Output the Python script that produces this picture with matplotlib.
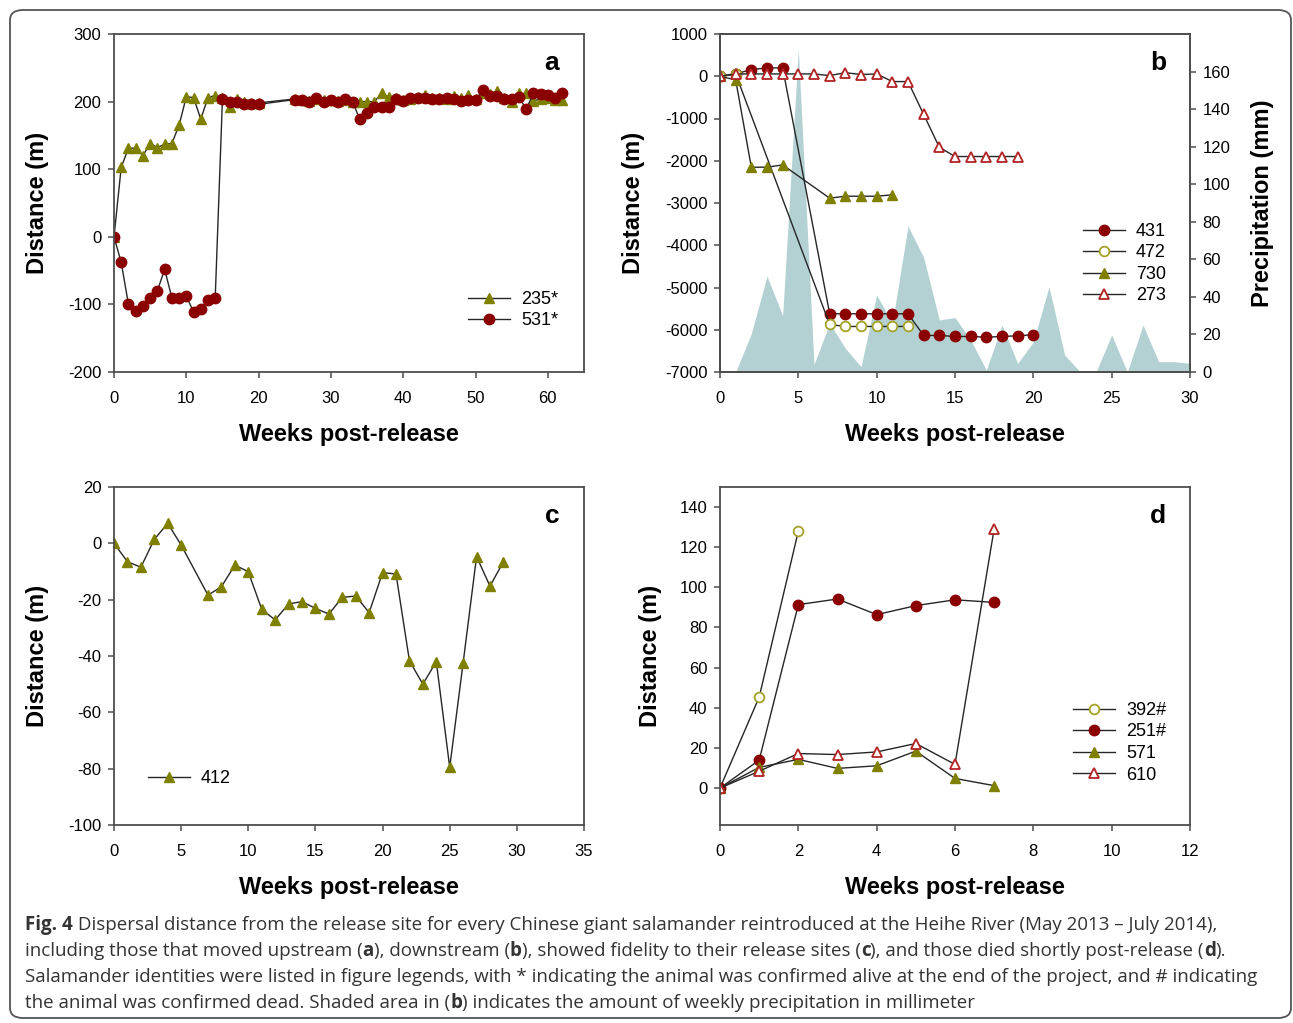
import numpy as np
import matplotlib
matplotlib.use("Agg")
from matplotlib import pyplot as plt
from matplotlib.patches import FancyBboxPatch

plt.rcParams['font.family'] = ['Liberation Sans', 'DejaVu Sans']
plt.rcParams['axes.unicode_minus'] = False

# ---- panel a: upstream movers
weeks_a = list(range(0, 21)) + list(range(25, 63))
dist_235 = [0, 103, 131, 131, 120, 138, 132, 137, 138, 165, 207, 206, 174, 206, 209, 205, 192, 204, 199, 198, 198,
            204, 203, 201, 204, 202, 203, 201, 202, 200, 200, 200, 200, 212, 207, 205, 203, 204, 207, 210, 205,
            206, 204, 209, 205, 210, 204, 212, 211, 216, 206, 199, 212, 212, 201, 204, 205, 202, 203]
dist_531 = [0, -38, -100, -110, -103, -91, -80, -48, -90, -90, -88, -111, -107, -93, -90, 204, 199, 199, 196, 196, 196,
            203, 203, 200, 205, 200, 203, 200, 204, 199, 174, 183, 192, 192, 192, 204, 201, 205, 206, 205, 204,
            204, 205, 204, 201, 202, 203, 217, 209, 209, 204, 204, 207, 189, 212, 211, 210, 206, 212]

# ---- panel b: downstream movers + weekly precipitation
weeks_431 = [0, 1, 2, 3, 4, 7, 8, 9, 10, 11, 12, 13, 14, 15, 16, 17, 18, 19, 20]
dist_431 = [0, 55, 158, 197, 197, -5622, -5622, -5622, -5622, -5622, -5622, -6135, -6135, -6159, -6159, -6175,
            -6159, -6143, -6119]
weeks_472 = [0, 1, 7, 8, 9, 10, 11, 12]
dist_472 = [0, 55, -5875, -5922, -5922, -5922, -5922, -5922]
weeks_730 = [0, 1, 2, 3, 4, 7, 8, 9, 10, 11]
dist_730 = [0, -87, -2153, -2153, -2098, -2886, -2839, -2839, -2839, -2807]
weeks_273 = list(range(0, 20))
dist_273 = [0, 55, 55, 55, 55, 55, 55, 15, 85, 40, 55, -126, -126, -905, -1680, -1900, -1900, -1900, -1900, -1900]
weeks_rain = list(range(0, 31))
rain_mm = [0, 0, 20.5, 51, 30, 172, 4, 26, 12.6, 2.8, 41, 26, 77.7, 61, 27.7, 29, 17, 1, 25, 4.6, 16, 45.4, 9,
           0, 0, 19.7, 0, 25, 5.5, 5.5, 4.6]

# ---- panel c: site fidelity
weeks_412 = [0, 1, 2, 3, 4, 5] + list(range(7, 30))
dist_412 = [0, -6.5, -8.5, 1.4, 7.1, -0.6, -18.4, -15.4, -7.7, -10.1, -23.4, -27.2, -21.5, -20.7, -23.1, -25.1,
            -19.2, -18.7, -24.6, -10.4, -10.9, -41.7, -50, -42, -79.5, -42.4, -4.7, -15.2, -6.5]

# ---- panel d: died shortly post-release
weeks_392 = [0, 1, 2]
dist_392 = [0, 45.3, 128]
weeks_d = [0, 1, 2, 3, 4, 5, 6, 7]
dist_251 = [0, 13.9, 91.4, 94.2, 86.4, 90.9, 93.8, 92.5]
dist_571 = [0, 10.3, 14.3, 9.8, 11.1, 18.4, 4.8, 1.2]
dist_610 = [0, 8.4, 17.2, 16.7, 18.0, 22.2, 11.8, 129.2]

RED = '#8b0000'
OLIVE = '#808000'
OPEN_OLIVE = '#a3a32a'
OPEN_RED = '#b22222'
LINE = '#262626'
SPINE = '#4d4d4d'

filled_circle = dict(marker='o', ms=7.5, mfc=RED, mec=RED, color=LINE, lw=1)
open_circle = dict(marker='o', ms=7, mfc='white', mec=OPEN_OLIVE, mew=1.3, color=LINE, lw=1)
filled_tri = dict(marker='^', ms=7.5, mfc=OLIVE, mec=OLIVE, color=LINE, lw=1)
open_tri = dict(marker='^', ms=7.5, mfc='white', mec=OPEN_RED, mew=1.3, color=LINE, lw=1)

W, H = 1293, 1023
fig = plt.figure(figsize=(W / 100, H / 100), dpi=100)


def make_ax(left, top, right, bottom):
    ax = fig.add_axes([left / W, 1 - bottom / H, (right - left) / W, (bottom - top) / H])
    for s in ax.spines.values():
        s.set_color(SPINE)
        s.set_linewidth(1.3)
    ax.tick_params(direction='out', length=4, width=1.1, color=SPINE, labelsize=12, pad=5)
    ax.tick_params(axis='x', pad=10)
    return ax


def style(ax, letter, ylab_x):
    ax.set_xlabel('Weeks post-release', fontsize=17, fontweight='bold')
    ax.xaxis.set_label_coords(0.5, -0.15)
    ax.set_ylabel('Distance (m)', fontsize=17, fontweight='bold')
    ax.yaxis.set_label_coords(ylab_x, 0.5)
    ax.text(0.932, 0.915, letter, transform=ax.transAxes, fontsize=19, fontweight='bold',
            ha='center', va='center')


def add_legend(ax, x, y):
    ax.legend(loc='upper left', bbox_to_anchor=(x, y), frameon=False, fontsize=13,
              handlelength=2.35, handletextpad=0.6, labelspacing=0.25, borderpad=0, borderaxespad=0)


# a
ax1 = make_ax(114, 34, 584, 372)
ax1.plot(weeks_a, dist_235, label='235*', **filled_tri)
ax1.plot(weeks_a, dist_531, label='531*', **filled_circle)
ax1.set_xlim(0, 65)
ax1.set_ylim(-200, 300)
ax1.set_xticks(range(0, 61, 10))
ax1.set_yticks(range(-200, 301, 100))
style(ax1, 'a', -0.138)
add_legend(ax1, 0.753, 0.24)

# b
ax2 = make_ax(720, 34, 1190, 372)
ax2r = ax2.twinx()
ax2r.fill_between(weeks_rain, rain_mm, 0, color='#b3d1d3', lw=0)
ax2r.set_ylim(0, 180)
ax2r.set_yticks(range(0, 161, 20))
ax2r.tick_params(direction='out', length=4, width=1.1, color=SPINE, labelsize=12, pad=5)
for s in ax2r.spines.values():
    s.set_color(SPINE)
    s.set_linewidth(1.3)
ax2r.set_ylabel('Precipitation (mm)', fontsize=17, fontweight='bold')
ax2r.yaxis.set_label_coords(1.13, 0.5)
ax2.set_zorder(ax2r.get_zorder() + 1)
ax2.patch.set_visible(False)
ax2.plot(weeks_431, dist_431, label='431', **filled_circle)
ax2.plot(weeks_472, dist_472, label='472', **open_circle)
ax2.plot(weeks_730, dist_730, label='730', **filled_tri)
ax2.plot(weeks_273, dist_273, label='273', **open_tri)
ax2.set_xlim(0, 30)
ax2.set_ylim(-7000, 1000)
ax2.set_xticks(range(0, 31, 5))
ax2.set_yticks(range(-7000, 1001, 1000))
style(ax2, 'b', -0.160)
add_legend(ax2, 0.772, 0.441)

# c
ax3 = make_ax(114, 487, 584, 825)
ax3.plot(weeks_412, dist_412, label='412', **filled_tri)
ax3.set_xlim(0, 35)
ax3.set_ylim(-100, 20)
ax3.set_xticks(range(0, 36, 5))
ax3.set_yticks(range(-100, 21, 20))
style(ax3, 'c', -0.138)
add_legend(ax3, 0.072, 0.163)

# d
ax4 = make_ax(720, 487, 1190, 825)
ax4.plot(weeks_392, dist_392, label='392#', **open_circle)
ax4.plot(weeks_d, dist_251, label='251#', **filled_circle)
ax4.plot(weeks_d, dist_571, label='571', **filled_tri)
ax4.plot(weeks_d, dist_610, label='610', **open_tri)
ax4.set_xlim(0, 12)
ax4.set_ylim(-18.4, 150)
ax4.set_xticks(range(0, 13, 2))
ax4.set_yticks(range(0, 141, 20))
style(ax4, 'd', -0.123)
add_legend(ax4, 0.751, 0.364)

# caption, bold and regular pieces laid out one after another
renderer = fig.canvas.get_renderer()
caption = [
    [("Fig. 4", True), (" Dispersal distance from the release site for every Chinese giant salamander reintroduced "
                        "at the Heihe River (May 2013 \u2013 July 2014),", False)],
    [("including those that moved upstream (", False), ("a", True), ("), downstream (", False), ("b", True),
     ("), showed fidelity to their release sites (", False), ("c", True),
     ("), and those died shortly post-release (", False), ("d", True), (").", False)],
    [("Salamander identities were listed in figure legends, with * indicating the animal was confirmed alive at "
      "the end of the project, and # indicating", False)],
    [("the animal was confirmed dead. Shaded area in (", False), ("b", True),
     (") indicates the amount of weekly precipitation in millimeter", False)],
]
for i, parts in enumerate(caption):
    x = 25
    y = 925 + 26 * i
    for txt, bold in parts:
        t = fig.text(x / W, 1 - y / H, txt, fontsize=13.5, family=['Open Sans', 'DejaVu Sans'],
                     fontweight='bold' if bold else 'normal', color='#333333', va='center', ha='left')
        x += t.get_window_extent(renderer).width

fig.add_artist(FancyBboxPatch((10 / W, 5 / H), 1281 / W, 1008 / H,
                              boxstyle='round,pad=0,rounding_size=0.01', fc='none', ec='#555555', lw=1.3))

fig.savefig('out.png', dpi=100)
